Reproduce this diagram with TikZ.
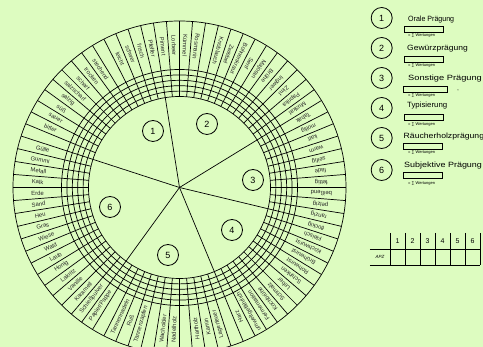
\documentclass[tikz,border=0pt]{standalone}
\usepackage{fontspec}
\setmainfont{Liberation Sans}
\usetikzlibrary{positioning}

\definecolor{bggreen}{RGB}{221,252,192}

\begin{document}
\begin{tikzpicture}[x=1pt, y=1pt,
    wort/.style={font=\fontsize{5.9}{6}\selectfont, inner sep=0pt, text=black!85},
    nummer/.style={circle, draw, line width=0.8pt, minimum size=21pt, inner sep=0pt, font=\fontsize{9}{10}\selectfont},
    legtitel/.style={anchor=west, inner sep=0pt, font=\fontsize{7.6}{8}\selectfont},
    kasten/.style={draw, line width=0.6pt, minimum width=39pt, minimum height=6pt, inner sep=0pt, anchor=north west},
    summe/.style={anchor=west, inner sep=0pt, font=\fontsize{4}{5}\selectfont},
    linie/.style={line width=0.7pt}]
    % Hintergrund
    \fill[bggreen] (-179.5,-159.5) rectangle (303.5,187.5);
    \useasboundingbox (-179.5,-159.5) rectangle (303.5,187.5);
    % Ringe und Aussenkreis
    \draw[linie] (0,0) circle (166.5);
    \draw[linie] (0,0) circle (118);
    \draw[linie] (0,0) circle (112.6);
    \draw[linie] (0,0) circle (107.2);
    \draw[linie] (0,0) circle (101.8);
    \draw[linie] (0,0) circle (96.4);
    \draw[linie] (0,0) circle (91);
    % Felder
    \foreach \a in {0,4.5,...,355.5}
        \draw[linie] (\a:91) -- (\a:166.5);
    % Sektorgrenzen
    \draw[linie] (0,0) -- (-13.5:91);
    \draw[linie] (0,0) -- (31.5:91);
    \draw[linie] (0,0) -- (99:91);
    \draw[linie] (0,0) -- (162:91);
    \draw[linie] (0,0) -- (234:91);
    \draw[linie] (0,0) -- (292.5:91);
    % Sektornummern
    \node[nummer] (s1) at (-26.5,56.5) {1};
    \node[nummer] (s2) at (27.5,63.5) {2};
    \node[nummer] (s3) at (73.5,7.5) {3};
    \node[nummer] (s4) at (52.5,-42.5) {4};
    \node[nummer] (s5) at (-11.5,-67.5) {5};
    \node[nummer] (s6) at (-69.5,-19.5) {6};
    % 3 - Sonstige Praegung
    \node[wort, rotate=-191.25] (w77) at (-11.25:142) {ranzig};
    \node[wort, rotate=-186.75] (w78) at (-6.75:142) {pelzig};
    \node[wort, rotate=-182.25] (w79) at (-2.25:142) {beißend};
    \node[wort, rotate=182.25] (w0) at (2.25:142) {fettig};
    \node[wort, rotate=186.75] (w1) at (6.75:142) {fade};
    \node[wort, rotate=191.25] (w2) at (11.25:142) {seifig};
    \node[wort, rotate=195.75] (w3) at (15.75:142) {warm};
    \node[wort, rotate=200.25] (w4) at (20.25:142) {kalt};
    \node[wort, rotate=204.75] (w5) at (24.75:142) {mollig};
    \node[wort, rotate=209.25] (w6) at (29.25:142) {Tabak};
    % 2 - Gewuerzpraegung
    \node[wort, rotate=213.75] (w7) at (33.75:142) {Muskat};
    \node[wort, rotate=218.25] (w8) at (38.25:142) {Paprika};
    \node[wort, rotate=222.75] (w9) at (42.75:142) {Zimt};
    \node[wort, rotate=227.25] (w10) at (47.25:142) {Ingwer};
    \node[wort, rotate=231.75] (w11) at (51.75:142) {Brühe};
    \node[wort, rotate=236.25] (w12) at (56.25:142) {Majoran};
    \node[wort, rotate=240.75] (w13) at (60.75:142) {Senf};
    \node[wort, rotate=245.25] (w14) at (65.25:142) {Bohnenkraut};
    \node[wort, rotate=249.75] (w15) at (69.75:142) {Zwiebel};
    \node[wort, rotate=254.25] (w16) at (74.25:142) {Knoblauch};
    \node[wort, rotate=263.25] (w18) at (83.25:142) {Rosmarin};
    \node[wort, rotate=267.75] (w19) at (87.75:142) {Kümmel};
    \node[wort, rotate=272.25] (w20) at (92.25:142) {Lorbeer};
    \node[wort, rotate=276.75] (w21) at (96.75:142) {Piment};
    % 1 - Orale Praegung
    \node[wort, rotate=281.25] (w22) at (101.25:142) {Pfeffer};
    \node[wort, rotate=285.75] (w23) at (105.75:142) {frisch};
    \node[wort, rotate=290.25] (w24) at (110.25:142) {schwer};
    \node[wort, rotate=294.75] (w25) at (114.75:142) {leicht};
    \node[wort, rotate=303.75] (w27) at (123.75:142) {stechend};
    \node[wort, rotate=308.25] (w28) at (128.25:142) {trocken};
    \node[wort, rotate=312.75] (w29) at (132.75:142) {scharf};
    \node[wort, rotate=317.25] (w30) at (137.25:142) {salzscharf};
    \node[wort, rotate=321.75] (w31) at (141.75:142) {salzig};
    \node[wort, rotate=326.25] (w32) at (146.25:142) {süß};
    \node[wort, rotate=330.75] (w33) at (150.75:142) {sauer};
    \node[wort, rotate=335.25] (w34) at (155.25:142) {bitter};
    % 6 - Subjektive Praegung
    \node[wort, rotate=344.25] (w36) at (164.25:142) {Gülle};
    \node[wort, rotate=348.75] (w37) at (168.75:142) {Gummi};
    \node[wort, rotate=353.25] (w38) at (173.25:142) {Metall};
    \node[wort, rotate=357.75] (w39) at (177.75:142) {Kalk};
    \node[wort, rotate=2.25] (w40) at (182.25:142) {Erde};
    \node[wort, rotate=6.75] (w41) at (186.75:142) {Sand};
    \node[wort, rotate=11.25] (w42) at (191.25:142) {Heu};
    \node[wort, rotate=15.75] (w43) at (195.75:142) {Gras};
    \node[wort, rotate=20.25] (w44) at (200.25:142) {Wiese};
    \node[wort, rotate=24.75] (w45) at (204.75:142) {Wald};
    \node[wort, rotate=29.25] (w46) at (209.25:142) {Laub};
    \node[wort, rotate=33.75] (w47) at (213.75:142) {Honig};
    \node[wort, rotate=38.25] (w48) at (218.25:142) {Lakritz};
    \node[wort, rotate=42.75] (w49) at (222.75:142) {Vanille};
    \node[wort, rotate=47.25] (w50) at (227.25:142) {Karamell};
    \node[wort, rotate=51.75] (w51) at (231.75:142) {Schießpulver};
    % 5 - Raeucherholzpraegung
    \node[wort, rotate=56.25] (w52) at (236.25:142) {Papier/Pappe};
    \node[wort, rotate=65.25] (w54) at (245.25:142) {Tannennadeln};
    \node[wort, rotate=69.75] (w55) at (249.75:142) {Ruß};
    \node[wort, rotate=74.25] (w56) at (254.25:142) {Tannenzapfen};
    \node[wort, rotate=83.25] (w58) at (263.25:142) {Wacholder};
    \node[wort, rotate=87.75] (w59) at (267.75:142) {Nadelholz};
    \node[wort, rotate=96.75] (w61) at (276.75:142) {Hartholz};
    \node[wort, rotate=101.25] (w62) at (281.25:142) {Kamin};
    \node[wort, rotate=105.75] (w63) at (285.75:142) {Lagerfeuer};
    % 4 - Typisierung
    \node[wort, rotate=114.75] (w65) at (294.75:142) {Harz};
    \node[wort, rotate=119.25] (w66) at (299.25:142) {umweltgefährlich};
    \node[wort, rotate=123.75] (w67) at (303.75:142) {Fermentation};
    \node[wort, rotate=128.25] (w68) at (308.25:142) {Kochbrühe};
    \node[wort, rotate=132.75] (w69) at (312.75:142) {Schmalz};
    \node[wort, rotate=137.25] (w70) at (317.25:142) {Leber};
    \node[wort, rotate=141.75] (w71) at (321.75:142) {Schinken};
    \node[wort, rotate=146.25] (w72) at (326.25:142) {Rohwurst};
    \node[wort, rotate=150.75] (w73) at (330.75:142) {Brühwurst};
    \node[wort, rotate=155.25] (w74) at (335.25:142) {Kochwurst};
    \node[wort, rotate=159.75] (w75) at (339.75:142) {Fleisch};
    \node[wort, rotate=164.25] (w76) at (344.25:142) {flockig};
    % Legende
    \node[nummer] (l1) at (202.2,169.5) {1};
    \node[legtitel] (t1) at (228.5,167.5) {\scalebox{0.93}[1]{Orale Prägung}};
    \node[kasten] (k1) at (224.5,161.5) {};
    \node[summe] (e1) at (228.5,151.5) {= ∑ Wertungen};
    \node[nummer] (l2) at (202.2,139.5) {2};
    \node[legtitel] (t2) at (227.5,138.5) {\scalebox{1.12}[1]{Gewürzprägung}};
    \node[kasten] (k2) at (224.5,131.5) {};
    \node[summe] (e2) at (228.5,121.5) {= ∑ Wertungen};
    \node[nummer] (l3) at (202.2,109.5) {3};
    \node[legtitel] (t3) at (228.5,108.5) {\scalebox{1.22}[1]{Sonstige Prägung}};
    \node[kasten, minimum width=44pt] (k3) at (223.5,101.5) {};
    \node[circle, fill, inner sep=0.35pt] (p3) at (278.5,97.5) {};
    \node[summe] (e3) at (228.5,91.5) {= ∑ Wertungen};
    \node[nummer] (l4) at (202.2,79.5) {4};
    \node[legtitel] (t4) at (227.5,81.5) {\scalebox{1.03}[1]{Typisierung}};
    \node[kasten] (k4) at (224.5,73.5) {};
    \node[summe] (e4) at (228.5,62.5) {= ∑ Wertungen};
    \node[nummer] (l5) at (202.2,49.5) {5};
    \node[legtitel] (t5) at (224,50.5) {\scalebox{1.14}[1]{Räucherholzprägung}};
    \node[kasten] (k5) at (223.5,44.5) {};
    \node[summe] (e5) at (228.5,34.5) {= ∑ Wertungen};
    \node[nummer] (l6) at (202.2,17.5) {6};
    \node[legtitel] (t6) at (224.5,21.5) {\scalebox{1.18}[1]{Subjektive Prägung}};
    \node[kasten] (k6) at (223.5,15.5) {};
    \node[summe] (e6) at (228.5,3.5) {= ∑ Wertungen};
    % Tabelle
    \draw[linie] (190.5,-61.5) -- (300.5,-61.5);
    \draw[linie] (190.5,-77.5) -- (300.5,-77.5);
    \draw[linie] (210.5,-45.5) -- (210.5,-77.5);
    \draw[linie] (225.5,-45.5) -- (225.5,-77.5);
    \draw[linie] (240.5,-45.5) -- (240.5,-77.5);
    \draw[linie] (255.5,-45.5) -- (255.5,-77.5);
    \draw[linie] (270.5,-45.5) -- (270.5,-77.5);
    \draw[linie] (285.5,-45.5) -- (285.5,-77.5);
    \draw[linie] (300.5,-45.5) -- (300.5,-77.5);
    \node[font=\fontsize{7}{8}\selectfont] (h1) at (218,-53.5) {1};
    \node[font=\fontsize{7}{8}\selectfont] (h2) at (233,-53.5) {2};
    \node[font=\fontsize{7}{8}\selectfont] (h3) at (248,-53.5) {3};
    \node[font=\fontsize{7}{8}\selectfont] (h4) at (263,-53.5) {4};
    \node[font=\fontsize{7}{8}\selectfont] (h5) at (278,-53.5) {5};
    \node[font=\fontsize{7}{8}\selectfont] (h6) at (293,-53.5) {6};
    \node[font=\fontsize{4.5}{5}\selectfont\itshape] (apz) at (200.5,-69.5) {APZ};
\end{tikzpicture}
\end{document}
